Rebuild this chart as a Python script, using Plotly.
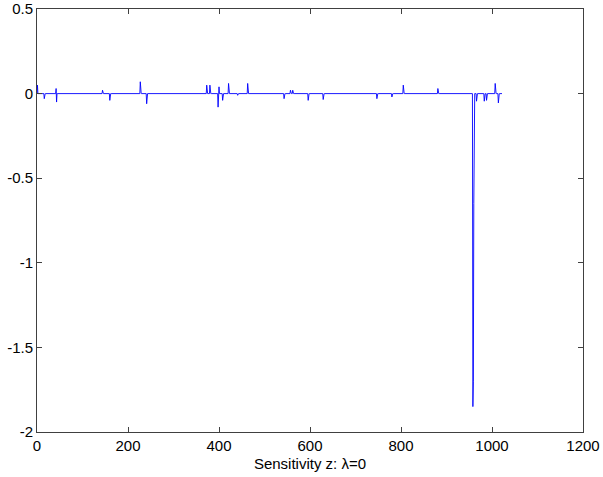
import plotly.graph_objects as go

# Number of samples in the sensitivity vector
n_points = 1023

# Non-zero entries (index, value)
spike_idx = [1, 16, 42, 43, 144, 160, 227, 241, 373, 380, 398, 400, 408, 421, 441, 463,
             543, 557, 562, 596, 629, 747, 780, 805, 881,
             958, 959, 960, 966, 983, 988, 1007, 1014]
spike_val = [0.05, -0.03, 0.03, -0.05, 0.02, -0.04, 0.07, -0.06, 0.05, 0.05, -0.08, 0.04, -0.04, 0.06, -0.01, 0.06,
             -0.03, 0.02, 0.02, -0.04, -0.035, -0.03, -0.02, 0.05, 0.03,
             -1.85, -1.7, -0.65, -0.045, -0.045, -0.04, 0.06, -0.055]

x_ticks = [0, 200, 400, 600, 800, 1000, 1200]
y_ticks = [-2, -1.5, -1, -0.5, 0, 0.5]
y_tick_text = ["-2", "-1.5", "-1", "-0.5", "0", "0.5"]
x_title = "Sensitivity z: λ=0"

x = list(range(n_points))
y = [0.0] * n_points
for i, v in zip(spike_idx, spike_val):
    y[i] = v

fig = go.Figure()
fig.add_trace(go.Scatter(x=x, y=y, mode="lines",
                         line=dict(color="#0000FF", width=0.9), showlegend=False))

axis_common = dict(showgrid=False, zeroline=False, showline=True, linecolor="#404040",
                   linewidth=1, mirror="allticks", ticks="inside", ticklen=5,
                   tickcolor="#404040", tickfont=dict(size=15, color="black"),
                   automargin=False)

fig.update_layout(
    width=603, height=477,
    margin=dict(l=37, r=20, t=9, b=45),
    paper_bgcolor="white", plot_bgcolor="white",
    font=dict(family="Liberation Sans, Arial, sans-serif", size=15, color="black"),
    xaxis=dict(range=[0, 1200], tickvals=x_ticks,
               title=dict(text=x_title, standoff=5, font=dict(size=15)), **axis_common),
    yaxis=dict(range=[-2, 0.5], tickvals=y_ticks, ticktext=y_tick_text, **axis_common),
)

fig.write_html("out.html", config={"displayModeBar": False},
               post_script="document.body.style.margin='0';document.body.style.padding='0';")
